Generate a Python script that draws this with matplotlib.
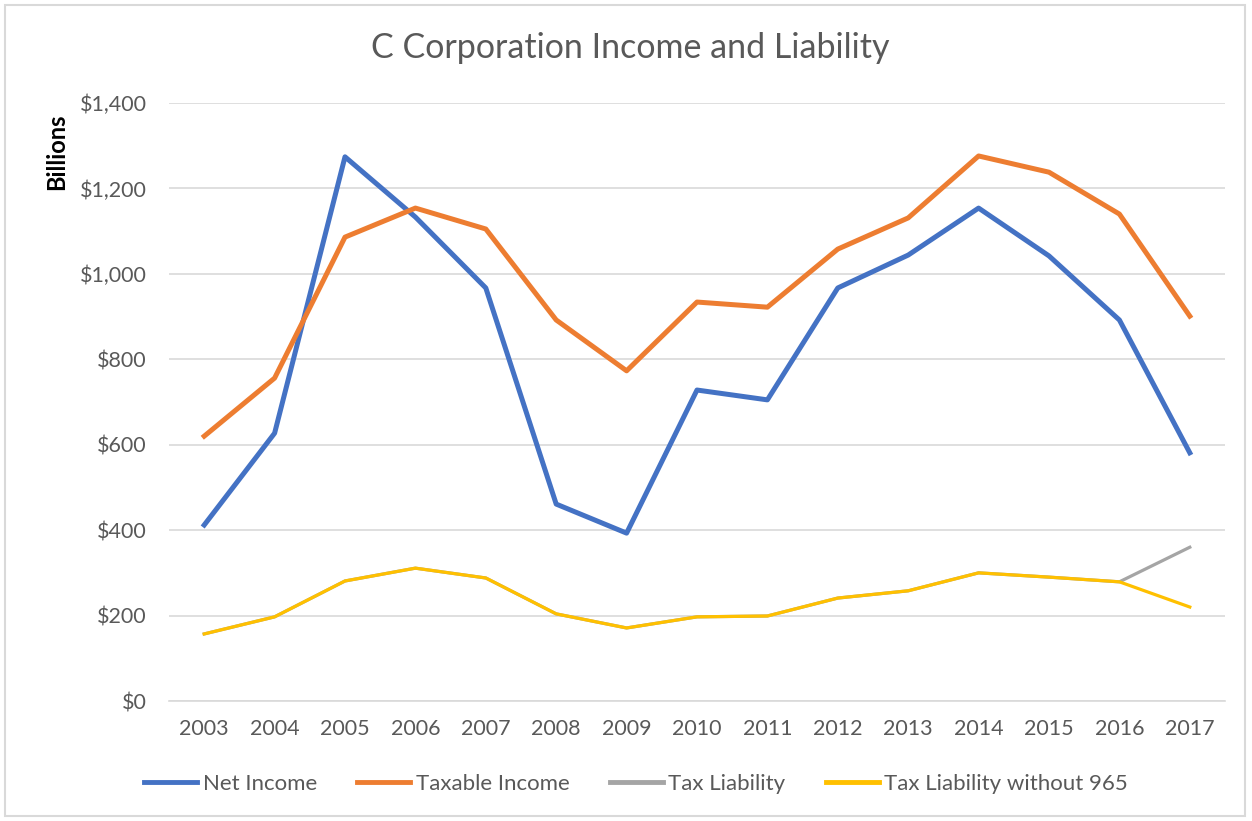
import matplotlib
matplotlib.use("Agg")
import matplotlib.pyplot as plt  # noqa: E402
from matplotlib.patches import Rectangle  # noqa: E402
from matplotlib.ticker import FuncFormatter  # noqa: E402

years = ["2003", "2004", "2005", "2006", "2007", "2008", "2009", "2010",
         "2011", "2012", "2013", "2014", "2015", "2016", "2017"]
net_income = [412, 627, 1274, 1133, 967, 461, 393, 728, 705, 967, 1044, 1154, 1042, 892, 581]
taxable_income = [620, 756, 1086, 1154, 1105, 892, 773, 934, 922, 1058, 1131, 1276, 1238, 1140, 901]
tax_liability = [157, 197, 281, 311, 288, 204, 171, 197, 199, 241, 258, 300, 290, 279, 360]
tax_liability_no965 = [157, 197, 281, 311, 288, 204, 171, 197, 199, 241, 258, 300, 290, 279, 220]

plt.rcParams["font.family"] = ["Lato", "DejaVu Sans"]
TXT = "#595959"

fig = plt.figure(figsize=(12.52, 8.21), dpi=100)
ax = fig.add_axes([169 / 1252, 1 - 701 / 821, 1056 / 1252, 598 / 821])

x = list(range(len(years)))
ax.plot(x, net_income, color="#4472C4", lw=3.6, label="Net Income", solid_joinstyle="round")
ax.plot(x, taxable_income, color="#ED7D31", lw=3.6, label="Taxable Income", solid_joinstyle="round")
ax.plot(x, tax_liability, color="#A5A5A5", lw=2.3, label="Tax Liability", solid_joinstyle="round")
ax.plot(x, tax_liability_no965, color="#FFC000", lw=2.3, label="Tax Liability without 965",
        solid_joinstyle="round")

ax.set_xlim(-0.5, len(years) - 0.5)
ax.set_ylim(0, 1400)
ax.set_yticks(range(0, 1401, 200))
ax.yaxis.set_major_formatter(FuncFormatter(lambda v, p: f"${v:,.0f}"))
ax.set_xticks(x)
ax.set_xticklabels(years)
ax.tick_params(axis="both", length=0, labelsize=15.5, labelcolor=TXT)
ax.tick_params(axis="x", pad=13)
ax.tick_params(axis="y", pad=16)
ax.grid(axis="y", color="#D9D9D9", lw=1.2)
ax.set_axisbelow(True)
for side in ["top", "right", "left"]:
    ax.spines[side].set_visible(False)
ax.spines["bottom"].set_color("#D9D9D9")
ax.spines["bottom"].set_linewidth(1.2)

fig.text(630 / 1252, 1 - 48 / 821, "C Corporation Income and Liability",
         ha="center", va="center", fontsize=24.5, color=TXT)
fig.text(57 / 1252, 1 - 152 / 821, "Billions", rotation=90, ha="center", va="center",
         fontsize=17, fontweight="bold", color="black")

leg = fig.legend(loc="center", bbox_to_anchor=(636 / 1252, 1 - 784 / 821), ncol=4,
                 frameon=False, fontsize=16, handlelength=2.4, handletextpad=0.25,
                 columnspacing=1.8, labelcolor=TXT)
for h in leg.get_lines():
    h.set_linewidth(3.5)

fig.patches.append(Rectangle((5 / 1252, 5 / 821), 1240 / 1252, 811 / 821, transform=fig.transFigure,
                             fill=False, edgecolor="#D9D9D9", lw=1.5))

fig.savefig("out.png", dpi=100)
